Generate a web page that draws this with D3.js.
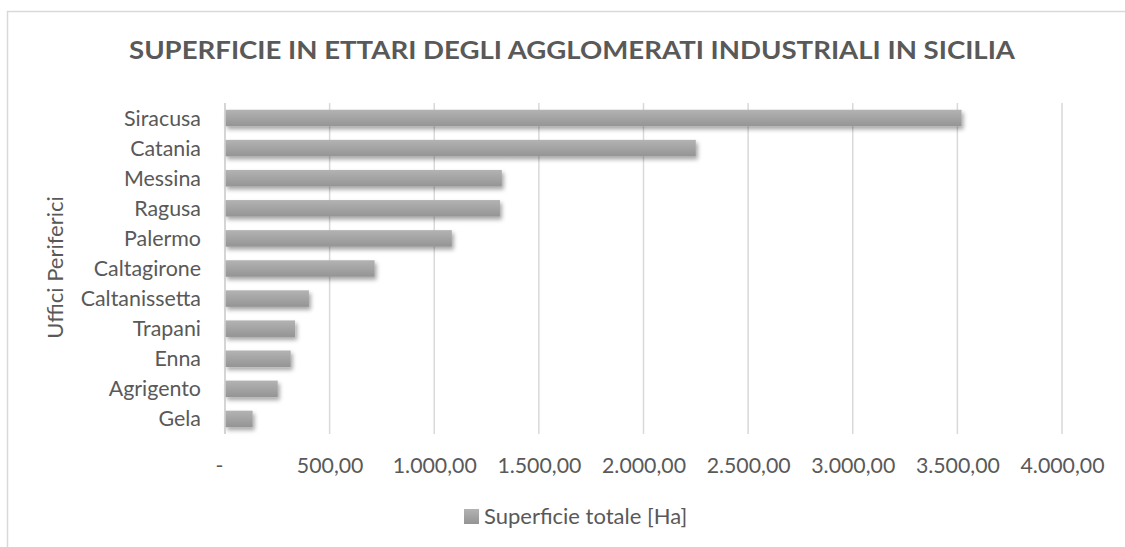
<!DOCTYPE html>
<html>
<head>
<meta charset="utf-8">
<script src="https://cdn.jsdelivr.net/npm/d3@7"></script>
<style>
  html, body { margin: 0; padding: 0; background: #fff; }
  svg { display: block; }
  text { font-family: Lato, "Open Sans", sans-serif; fill: #595959; }
</style>
</head>
<body>
<svg id="chart" width="1125" height="547"></svg>
<script>
// ---- data ----
const categories = ["Siracusa", "Catania", "Messina", "Ragusa", "Palermo", "Caltagirone",
                    "Caltanissetta", "Trapani", "Enna", "Agrigento", "Gela"];
const values = [3520, 2250, 1323, 1314, 1084, 715, 401, 335, 314, 252, 132];
const tickValues = [0, 500, 1000, 1500, 2000, 2500, 3000, 3500, 4000];
const tickLabels = ["-", "500,00", "1.000,00", "1.500,00", "2.000,00", "2.500,00", "3.000,00", "3.500,00", "4.000,00"];
const titleText = "SUPERFICIE IN ETTARI DEGLI AGGLOMERATI INDUSTRIALI IN SICILIA";
const yAxisTitle = "Uffici Periferici";
const seriesName = "Superficie totale [Ha]";

// ---- layout ----
const svg = d3.select("#chart");
const W = 1125, H = 547;
const plot = { left: 225, right: 1062, top: 103, bottom: 434 };

// border
svg.append("rect")
  .attr("x", 7.5).attr("y", 11.5)
  .attr("width", W + 20).attr("height", H + 20)
  .attr("fill", "#fff").attr("stroke", "#d9d9d9").attr("stroke-width", 1.5);

const defs = svg.append("defs");
const grad = defs.append("linearGradient").attr("id", "barGrad")
  .attr("x1", 0).attr("y1", 0).attr("x2", 0).attr("y2", 1);
grad.append("stop").attr("offset", "0%").attr("stop-color", "#b3b3b3");
grad.append("stop").attr("offset", "100%").attr("stop-color", "#949494");

const filt = defs.append("filter").attr("id", "shadow")
  .attr("x", "-10%").attr("y", "-40%").attr("width", "130%").attr("height", "200%");
filt.append("feDropShadow").attr("dx", 2).attr("dy", 3).attr("stdDeviation", 2)
  .attr("flood-color", "#000").attr("flood-opacity", 0.35);

const x = d3.scaleLinear().domain([0, 4000]).range([plot.left, plot.right]);
const y = d3.scaleBand().domain(categories).range([plot.top, plot.bottom])
  .paddingInner(0.45).paddingOuter(0.225);

// gridlines
svg.append("g").selectAll("line").data(tickValues).join("line")
  .attr("x1", d => x(d)).attr("x2", d => x(d))
  .attr("y1", plot.top).attr("y2", plot.bottom)
  .attr("stroke", "#d9d9d9").attr("stroke-width", 1.5);

// bars
svg.append("g").selectAll("rect").data(values).join("rect")
  .attr("x", x(0))
  .attr("y", (d, i) => y(categories[i]))
  .attr("width", d => x(d) - x(0))
  .attr("height", y.bandwidth())
  .attr("fill", "url(#barGrad)")
  .attr("filter", "url(#shadow)");

// x axis (no line, labels only)
const xAxis = d3.axisBottom(x).tickValues(tickValues)
  .tickFormat((d, i) => tickLabels[i]).tickSize(0).tickPadding(0);
const gx = svg.append("g").attr("transform", `translate(0,${plot.bottom})`).call(xAxis);
gx.select(".domain").remove();
gx.selectAll("text")
  .attr("y", 38.5).attr("dy", 0)
  .attr("dx", (d, i) => i === 0 ? -6 : 0)
  .style("font-family", "Lato, sans-serif").style("font-size", "21.3px").attr("fill", "#595959");

// y axis labels
const yAxis = d3.axisLeft(y).tickSize(0).tickPadding(0);
const gy = svg.append("g").attr("transform", `translate(${plot.left - 24},0)`).call(yAxis);
gy.select(".domain").remove();
gy.selectAll("text")
  .attr("dy", "0.35em")
  .style("font-family", "Lato, sans-serif").style("font-size", "21.4px").attr("fill", "#595959");

// zero axis line
svg.append("line")
  .attr("x1", x(0)).attr("x2", x(0)).attr("y1", plot.top).attr("y2", plot.bottom)
  .attr("stroke", "#d0d0d0").attr("stroke-width", 1.5);

// title
svg.append("text")
  .attr("x", 572).attr("y", 59)
  .attr("text-anchor", "middle")
  .attr("textLength", 886).attr("lengthAdjust", "spacingAndGlyphs")
  .style("font-size", "25px").style("font-weight", "bold")
  .text(titleText);

// y axis title
svg.append("text")
  .attr("transform", "translate(63,267.5) rotate(-90)")
  .attr("text-anchor", "middle")
  .style("font-size", "22px")
  .text(yAxisTitle);

// legend
const leg = svg.append("g");
leg.append("rect").attr("x", 464).attr("y", 509).attr("width", 15).attr("height", 15)
  .attr("fill", "url(#barGrad)");
leg.append("text").attr("x", 484).attr("y", 524)
  .style("font-size", "22px")
  .text(seriesName);
</script>
</body>
</html>
